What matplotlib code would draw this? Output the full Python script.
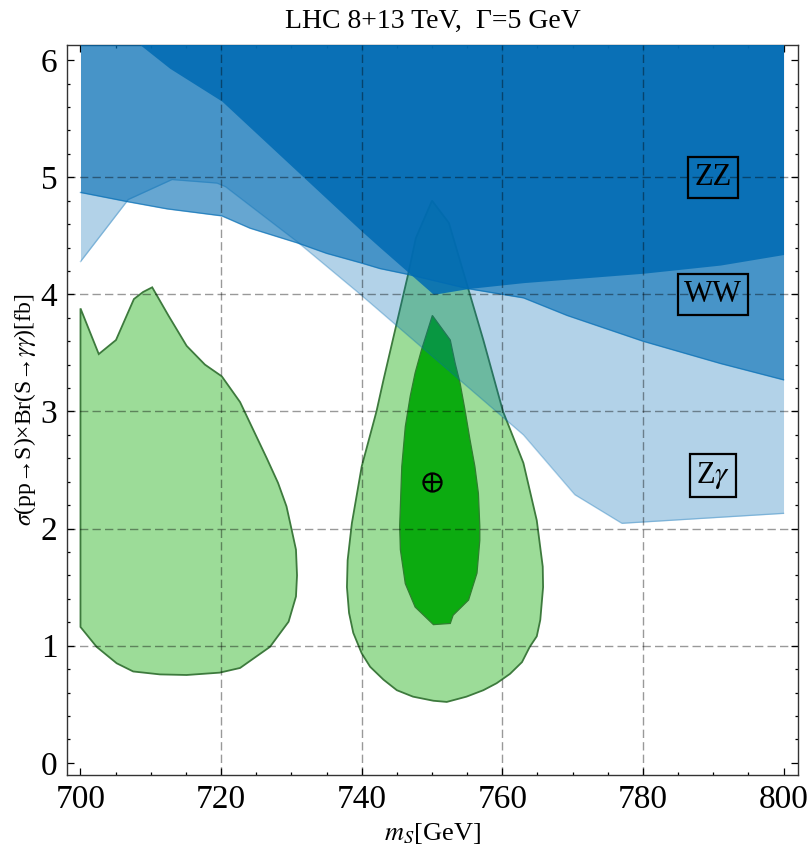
import numpy as np
import matplotlib
matplotlib.use("Agg")
import matplotlib.pyplot as plt

plt.rcParams['font.family'] = ['Liberation Serif', 'DejaVu Serif']
plt.rcParams['mathtext.fontset'] = 'stix'

# green fit regions
left_x = [700.0, 702.6, 705.05, 707.6, 708.9, 710.2, 712.5, 715.1, 717.7, 720.1, 722.7, 724.6,
          726.5, 728.1, 729.3, 730.0, 730.65, 730.8, 730.65, 729.6, 726.95, 722.7, 719.8, 715.1,
          711.3, 707.5, 705.15, 702.3, 700.0]
left_y = [3.88, 3.49, 3.61, 3.96, 4.02, 4.06, 3.82, 3.56, 3.40, 3.30, 3.08, 2.84,
          2.60, 2.39, 2.19, 2.00, 1.82, 1.60, 1.42, 1.205, 0.99, 0.81, 0.77, 0.75,
          0.755, 0.78, 0.85, 0.99, 1.16]

drop_x = [750.0, 752.4, 757.3, 760.1, 763.0, 764.9, 765.75, 765.8, 765.4, 764.9, 763.9, 762.8,
          761.1, 759.2, 757.3, 754.9, 752.1, 750.2, 747.3, 745.0, 743.1, 741.2, 740.0, 738.8,
          738.2, 737.9, 738.0, 738.6, 740.0, 742.1, 743.1, 746.6, 747.7]
drop_y = [4.80, 4.61, 3.61, 3.00, 2.56, 2.07, 1.675, 1.50, 1.22, 1.08, 0.99, 0.86,
          0.76, 0.68, 0.62, 0.565, 0.52, 0.53, 0.565, 0.62, 0.71, 0.82, 0.935, 1.11,
          1.28, 1.50, 1.73, 2.045, 2.53, 3.00, 3.27, 4.17, 4.48]

inner_x = [750.05, 752.6, 753.3, 754.0, 754.7, 755.4, 756.1, 756.6, 756.8, 756.8, 756.4, 755.2,
           753.0, 752.6, 750.2, 747.6, 746.2, 745.5, 745.4, 745.7, 746.2, 746.9, 747.6, 748.5]
inner_y = [3.82, 3.61, 3.41, 3.24, 3.01, 2.76, 2.53, 2.30, 2.02, 1.90, 1.62, 1.39,
           1.26, 1.19, 1.18, 1.33, 1.53, 1.82, 2.02, 2.53, 2.87, 3.13, 3.33, 3.525]

best_fit = (750.0, 2.4)

# lower edges of the excluded regions
zg_x = [700, 706.8, 713, 719.4, 720.6, 730.8, 739.8, 763, 770.3, 777, 800]
zg_y = [4.28, 4.81, 4.98, 4.95, 4.92, 4.45, 4.00, 2.80, 2.29, 2.045, 2.13]
ww_x = [700, 706.8, 712.3, 720.1, 724.1, 730.8, 735, 739.8, 742.6, 746.6, 755, 763, 769.2, 780, 791, 800]
ww_y = [4.87, 4.79, 4.73, 4.67, 4.565, 4.44, 4.35, 4.27, 4.22, 4.17, 4.05, 3.97, 3.82, 3.60, 3.41, 3.27]
zz_x = [700, 708.5, 712.7, 720.1, 739.8, 742.6, 750.2, 755.2, 763, 780, 791, 800]
zz_y = [6.55, 6.13, 5.93, 5.65, 4.55, 4.40, 4.0, 4.05, 4.10, 4.18, 4.25, 4.34]

labels = ["ZZ", "WW", "Z$\\gamma$"]
label_y = [5.0, 4.0, 2.45]

xticks = [700, 720, 740, 760, 780, 800]
yticks = [0, 1, 2, 3, 4, 5, 6]

blue = (0.0, 0.42, 0.70)
light_green = '#9cdc98'
dark_green = '#0cab10'
edge_green = '#3d7a3d'

fig = plt.figure(figsize=(8.1, 8.47), dpi=100)
ax = fig.add_axes([0.0827, 0.085, 0.9025, 0.862])

ax.fill(left_x, left_y, fc=light_green, ec=edge_green, lw=1.3, zorder=1)
ax.fill(drop_x, drop_y, fc=light_green, ec=edge_green, lw=1.3, zorder=1)
ax.fill(inner_x, inner_y, fc=dark_green, ec='#2f7f2f', lw=0.9, zorder=2)

top = 7
ax.fill_between(zg_x, zg_y, top, color=blue, alpha=0.3, lw=0, zorder=3)
ax.plot(zg_x, zg_y, color=blue, alpha=0.3, lw=1.0, zorder=3)
ax.fill_between(ww_x, ww_y, top, color=blue, alpha=0.6, lw=0, zorder=4)
ax.plot(ww_x, ww_y, color=blue, alpha=0.6, lw=1.0, zorder=4)
ax.fill_between(zz_x, zz_y, top, color=blue, alpha=0.86, lw=0, zorder=5)

for gx in [720, 740, 760, 780]:
    ax.axvline(gx, color='k', alpha=0.4, lw=1.0, ls=(0, (6, 3)), zorder=6)
for gy in [1, 2, 3, 4, 5]:
    ax.axhline(gy, color='k', alpha=0.4, lw=1.0, ls=(0, (6, 3)), zorder=6)

ax.plot(*best_fit, marker='o', ms=13, mfc='none', mec='k', mew=1.6, zorder=8)
ax.plot(*best_fit, marker='+', ms=13, mec='k', mew=1.6, zorder=8)

for t, ly in zip(labels, label_y):
    ax.text(790, ly, t, ha='center', va='center', fontsize=22, zorder=9,
            bbox=dict(boxstyle='square,pad=0.2', fc='none', ec='k', lw=1.6))

ax.set_xlim(698.08, 802.06)
ax.set_ylim(-0.104, 6.13)
ax.set_xticks(xticks)
ax.set_yticks(yticks)
ax.set_xticks(np.arange(700, 801, 5), minor=True)
ax.set_yticks(np.arange(0, 6.01, 0.2), minor=True)
ax.tick_params(which='both', direction='in', top=True, right=True, labelsize=24, width=0.9)
ax.tick_params(which='major', length=5, pad=7)
ax.tick_params(which='minor', length=2.5)
for s in ax.spines.values():
    s.set_linewidth(1.0)
    s.set_color('#333333')

ax.set_title("LHC 8+13 TeV,  \u0393=5 GeV", fontsize=20, pad=12)
ax.set_xlabel("$m_S$[GeV]", fontsize=19, labelpad=4)
ax.set_ylabel("$\\sigma$(pp\u2192S)\u00d7Br(S\u2192$\\gamma\\gamma$)[fb]",
              fontsize=17, labelpad=2)

fig.savefig("out.png", dpi=100)
